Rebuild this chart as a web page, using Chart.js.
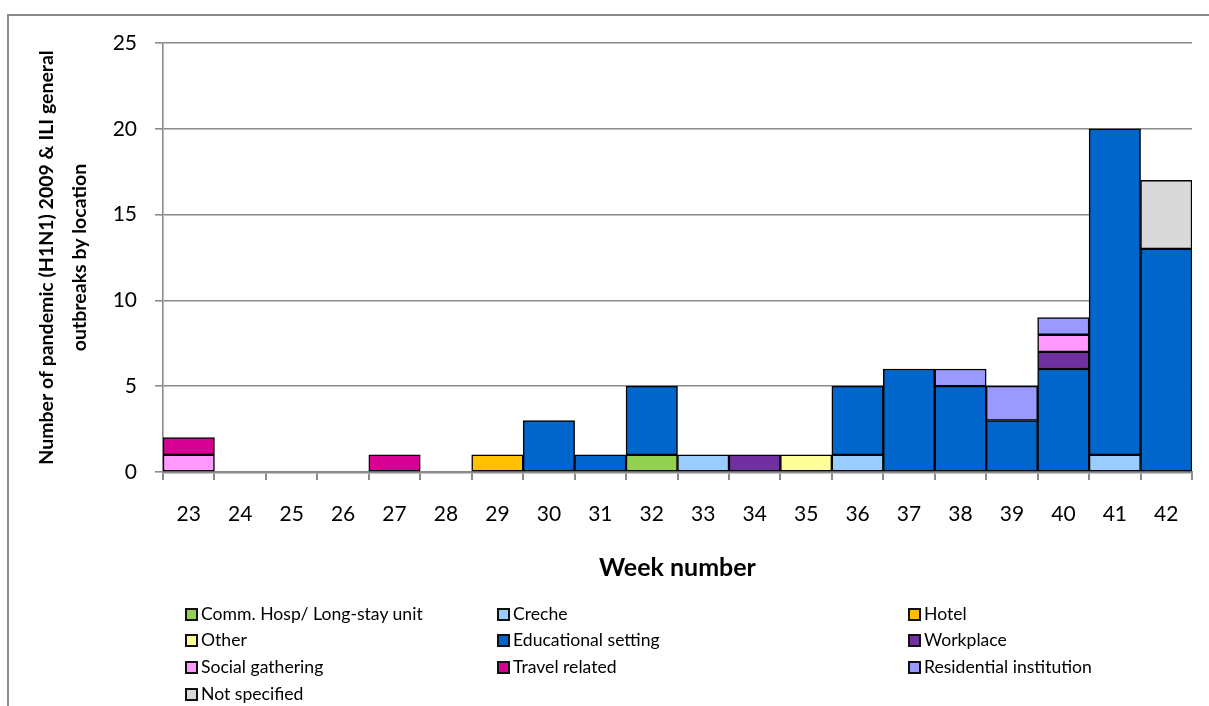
<!DOCTYPE html>
<html>
<head>
<meta charset="utf-8">
<script src="https://cdn.jsdelivr.net/npm/chart.js@4.4.1/dist/chart.umd.min.js"></script>
<style>
  html, body { margin: 0; padding: 0; background: #ffffff; }
  #wrap { position: relative; width: 1209px; height: 706px; overflow: hidden; }
  #frame { position: absolute; left: 7px; top: 14px; width: 1400px; height: 900px;
           border-top: 2px solid #8a8a8a; border-left: 2px solid #8a8a8a; }
  canvas { position: absolute; left: 0; top: 0; }
  .lg { position: absolute; font-family: Lato, "Open Sans", sans-serif; font-size: 17.6px;
        color: #000; white-space: nowrap; line-height: 26px; height: 26px; }
  .lg .sw { position: absolute; left: 0; top: 7px; width: 13px; height: 13px;
            box-sizing: border-box; border: 2px solid #111; }
  .lg .tx { position: absolute; left: 16px; top: 0; }
</style>
</head>
<body>
<div id="wrap">
  <div id="frame"></div>
  <canvas id="c" width="1209" height="706"></canvas>
  <div id="legend"></div>
</div>
<script>
const weeks = ["23","24","25","26","27","28","29","30","31","32","33","34","35","36","37","38","39","40","41","42"];
const yTicks = [0, 5, 10, 15, 20, 25];

const seriesNames = ["Comm. Hosp/ Long-stay unit","Creche","Hotel","Other","Educational setting","Workplace","Social gathering","Travel related","Residential institution","Not specified"];
const seriesColors = ["#92D050","#99CCFF","#FFC000","#FFFF99","#0066CC","#7030A0","#FF99FF","#D60093","#9999FF","#D9D9D9"];

//                    23 24 25 26 27 28 29 30 31 32 33 34 35 36 37 38 39 40 41 42
const commHosp     = [0, 0, 0, 0, 0, 0, 0, 0, 0, 1, 0, 0, 0, 0, 0, 0, 0, 0, 0, 0];
const creche       = [0, 0, 0, 0, 0, 0, 0, 0, 0, 0, 1, 0, 0, 1, 0, 0, 0, 0, 1, 0];
const hotel        = [0, 0, 0, 0, 0, 0, 1, 0, 0, 0, 0, 0, 0, 0, 0, 0, 0, 0, 0, 0];
const other        = [0, 0, 0, 0, 0, 0, 0, 0, 0, 0, 0, 0, 1, 0, 0, 0, 0, 0, 0, 0];
const educational  = [0, 0, 0, 0, 0, 0, 0, 3, 1, 4, 0, 0, 0, 4, 6, 5, 3, 6,19,13];
const workplace    = [0, 0, 0, 0, 0, 0, 0, 0, 0, 0, 0, 1, 0, 0, 0, 0, 0, 1, 0, 0];
const social       = [1, 0, 0, 0, 0, 0, 0, 0, 0, 0, 0, 0, 0, 0, 0, 0, 0, 1, 0, 0];
const travel       = [1, 0, 0, 0, 1, 0, 0, 0, 0, 0, 0, 0, 0, 0, 0, 0, 0, 0, 0, 0];
const residential  = [0, 0, 0, 0, 0, 0, 0, 0, 0, 0, 0, 0, 0, 0, 0, 1, 2, 1, 0, 0];
const notSpecified = [0, 0, 0, 0, 0, 0, 0, 0, 0, 0, 0, 0, 0, 0, 0, 0, 0, 0, 0, 4];

const seriesData = [commHosp, creche, hotel, other, educational, workplace, social, travel, residential, notSpecified];

const yTitle = ["Number of pandemic (H1N1) 2009 & ILI general", "outbreaks by location"];
const xTitle = "Week number";

const GRID = "#8a8a8a";
const FONT = "Lato, 'Open Sans', sans-serif";

const datasets = seriesNames.map((name, i) => ({
  label: name,
  data: seriesData[i].map(v => v === 0 ? null : v),
  backgroundColor: seriesColors[i],
  borderColor: "#000000",
  borderWidth: 1.5,
  borderSkipped: false,
  categoryPercentage: 1.0,
  barPercentage: 1.0
}));

new Chart(document.getElementById("c"), {
  type: "bar",
  data: { labels: weeks, datasets },
  options: {
    responsive: false,
    animation: false,
    layout: { padding: { left: 0, top: 43, right: 17, bottom: 0 } },
    plugins: { legend: { display: false }, tooltip: { enabled: false } },
    scales: {
      x: {
        stacked: true,
        afterFit: s => { s.height = 234; },
        grid: { offset: true, drawOnChartArea: false, drawTicks: true, tickLength: 8, color: GRID, lineWidth: 2 },
        border: { display: true, color: GRID, width: 2.5 },
        ticks: { color: "#000", padding: 22, font: { family: FONT, size: 21 } },
        title: { display: true, text: xTitle, color: "#000",
                 font: { family: FONT, size: 25, weight: "bold", lineHeight: 1.2 }, padding: { top: 0, bottom: 123 } }
      },
      y: {
        stacked: true,
        min: 0, max: 25,
        afterFit: s => { s.width = 163; },
        afterBuildTicks: s => { s.ticks = yTicks.map(v => ({ value: v })); },
        grid: { color: GRID, lineWidth: 1.6, drawTicks: true, tickLength: 8 },
        border: { display: true, color: GRID, width: 1.6 },
        ticks: { color: "#000", padding: 18, font: { family: FONT, size: 21 } },
        title: { display: true, text: yTitle, color: "#000",
                 font: { family: FONT, size: 19.5, weight: "bold", lineHeight: "33px" }, padding: { top: 30, bottom: 0 } }
      }
    }
  }
});

// legend (3 columns, row-major like the original)
const colX = [185, 497, 908];
const rowY = [601, 627, 654, 681];
const lg = document.getElementById("legend");
seriesNames.forEach((name, i) => {
  const d = document.createElement("div");
  d.className = "lg";
  d.style.left = colX[i % 3] + "px";
  d.style.top = rowY[Math.floor(i / 3)] + "px";
  const sw = document.createElement("span");
  sw.className = "sw";
  sw.style.background = seriesColors[i];
  const tx = document.createElement("span");
  tx.className = "tx";
  tx.textContent = name;
  d.appendChild(sw); d.appendChild(tx);
  lg.appendChild(d);
});
</script>
</body>
</html>
